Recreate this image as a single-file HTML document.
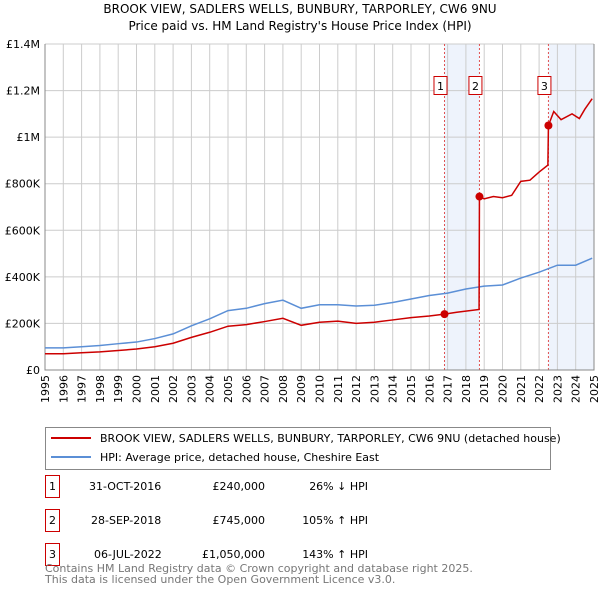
<!DOCTYPE html>
<html><head><meta charset="utf-8"><style>
body{margin:0;background:#fff;font-family:"Liberation Sans","DejaVu Sans",sans-serif;}
</style></head><body>
<svg width="600" height="590" xmlns="http://www.w3.org/2000/svg" font-family="DejaVu Sans, Liberation Sans, sans-serif">
<text x="300" y="13" text-anchor="middle" font-size="12">BROOK VIEW, SADLERS WELLS, BUNBURY, TARPORLEY, CW6 9NU</text>
<text x="300" y="30" text-anchor="middle" font-size="12">Price paid vs. HM Land Registry's House Price Index (HPI)</text>
<g id="plot"></g>
<g>
<rect x="45.5" y="427.5" width="505" height="42" fill="#fff" stroke="#888"/>
<line x1="51" y1="438" x2="91" y2="438" stroke="#cc0000" stroke-width="2"/>
<text x="100" y="442" font-size="11">BROOK VIEW, SADLERS WELLS, BUNBURY, TARPORLEY, CW6 9NU (detached house)</text>
<line x1="51" y1="457" x2="91" y2="457" stroke="#5b8fd6" stroke-width="2"/>
<text x="100" y="461" font-size="11">HPI: Average price, detached house, Cheshire East</text>
</g>
<g font-size="11">
<rect x="45.5" y="475.5" width="14" height="22" fill="none" stroke="#cc0000"/><text x="52.5" y="490" text-anchor="middle">1</text>
<text x="89" y="490">31-OCT-2016</text><text x="265" y="490" text-anchor="end">£240,000</text><text x="368" y="490" text-anchor="end">26% ↓ HPI</text>
<rect x="45.5" y="509.5" width="14" height="22" fill="none" stroke="#cc0000"/><text x="52.5" y="524" text-anchor="middle">2</text>
<text x="91" y="524">28-SEP-2018</text><text x="265" y="524" text-anchor="end">£745,000</text><text x="368" y="524" text-anchor="end">105% ↑ HPI</text>
<rect x="45.5" y="543.5" width="14" height="22" fill="none" stroke="#cc0000"/><text x="52.5" y="558" text-anchor="middle">3</text>
<text x="94" y="558">06-JUL-2022</text><text x="265" y="558" text-anchor="end">£1,050,000</text><text x="368" y="558" text-anchor="end">143% ↑ HPI</text>
</g>
<text x="45" y="572" font-size="11" fill="#777">Contains HM Land Registry data © Crown copyright and database right 2025.</text>
<text x="45" y="583" font-size="11" fill="#777">This data is licensed under the Open Government Licence v3.0.</text>
</svg>
<script>
const hpiYears=[1995,1996,1997,1998,1999,2000,2001,2002,2003,2004,2005,2006,2007,2008,2009,2010,2011,2012,2013,2014,2015,2016,2017,2018,2019,2020,2021,2022,2023,2024,2024.9];
const hpiValues=[95,95,100,105,113,120,135,155,190,220,255,265,285,300,265,280,280,275,278,290,305,320,330,348,360,365,395,420,450,450,480];
const redYears=[1995,1996,1997,1998,1999,2000,2001,2002,2003,2004,2005,2006,2007,2008,2009,2010,2011,2012,2013,2014,2015,2016,2016.83,2017.5,2018.72,2018.74,2019,2019.5,2020,2020.5,2021,2021.5,2022,2022.48,2022.51,2022.8,2023.2,2023.8,2024.2,2024.5,2024.9];
const redValues=[70,70,74,78,84,90,100,115,140,162,188,195,208,222,192,205,210,200,205,215,225,232,240,248,260,745,735,745,740,750,810,815,850,880,1050,1110,1075,1100,1080,1120,1165];
const saleYears=[2016.83,2018.74,2022.51];
const saleValues=[240,745,1050];
const saleLabels=["1","2","3"];
const yTicks=[0,200,400,600,800,1000,1200,1400];
const yTickLabels=["£0","£200K","£400K","£600K","£800K","£1M","£1.2M","£1.4M"];
const xTicks=[1995,1996,1997,1998,1999,2000,2001,2002,2003,2004,2005,2006,2007,2008,2009,2010,2011,2012,2013,2014,2015,2016,2017,2018,2019,2020,2021,2022,2023,2024,2025];
const X0=45,X1=594,Y0=370,Y1=44;
const xs=y=>X0+(y-1995)/30*(X1-X0);
const ys=v=>Y0-v/1400*(Y0-Y1);
const NS="http://www.w3.org/2000/svg";
const g=document.getElementById('plot');
function mk(t,a){const e=document.createElementNS(NS,t);for(const k in a)e.setAttribute(k,a[k]);g.appendChild(e);return e;}
// shaded bands
let b1=mk('rect',{x:xs(saleYears[0]),y:Y1,width:xs(saleYears[1])-xs(saleYears[0]),height:Y0-Y1,fill:'#eef3fc'});


let b2=mk('rect',{x:xs(saleYears[2]),y:Y1,width:X1-xs(saleYears[2]),height:Y0-Y1,fill:'#eef3fc'});


xTicks.forEach(t=>{
 const l=mk('line',{x1:xs(t),x2:xs(t),y1:Y1,y2:Y0,stroke:'#ccc'});
 
 
 const tx=mk('text',{x:0,y:0,'font-size':11,'text-anchor':'end',transform:`translate(${xs(t)+4},${Y0+5}) rotate(-90)`});
 tx.textContent=t;
 
 
});
yTicks.forEach((t,i)=>{
 const l=mk('line',{x1:X0,x2:X1,y1:ys(t),y2:ys(t),stroke:'#ccc'});
 
 
 const tx=mk('text',{x:X0-5,y:ys(t)+4,'font-size':11,'text-anchor':'end'});
 tx.textContent=yTickLabels[i];
 
 
});
saleYears.forEach((s,i)=>{
 const l=mk('line',{x1:xs(s),x2:xs(s),y1:Y1,y2:Y0,stroke:'#e05050','stroke-dasharray':'2,2'});
 
 
 const r=mk('rect',{x:xs(s)-10.5,y:76.5,width:13,height:18,fill:'#fff',stroke:'#cc0000'});
 
 
 const tx=mk('text',{x:xs(s)-4,y:90,'font-size':11,'text-anchor':'middle'});
 tx.textContent=saleLabels[i];
 
 
});
const ax=mk('path',{d:`M${X0},${Y1}V${Y0}H${X1}V${Y1}`,fill:'none',stroke:'#888'});


const hp=mk('polyline',{points:hpiYears.map((y,i)=>xs(y)+','+ys(hpiValues[i])).join(' '),fill:'none',stroke:'#5b8fd6','stroke-width':1.5});


const rp=mk('polyline',{points:redYears.map((y,i)=>xs(y)+','+ys(redValues[i])).join(' '),fill:'none',stroke:'#cc0000','stroke-width':1.5});


saleYears.forEach((s,i)=>{
 const c=mk('circle',{cx:xs(s),cy:ys(saleValues[i]),r:4,fill:'#cc0000'});
 
 
});
</script>
</body></html>
